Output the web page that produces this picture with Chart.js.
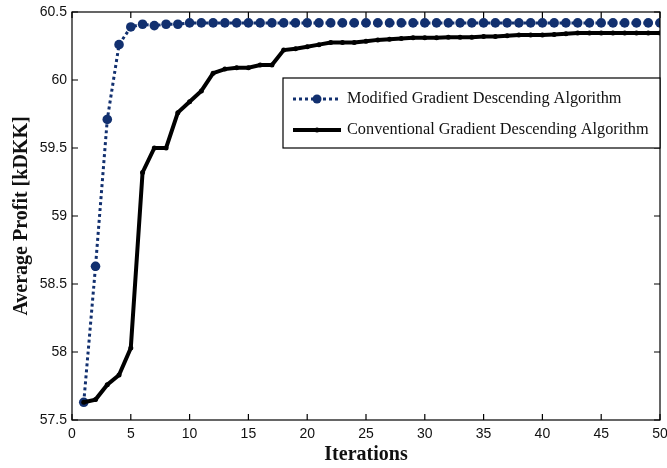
<!DOCTYPE html>
<html>
<head>
<meta charset="utf-8">
<script src="https://cdn.jsdelivr.net/npm/chart.js@4"></script>
<style>
  body { margin: 0; background: #fff; }
  #c { display: block; }
</style>
</head>
<body>
<canvas id="c" width="667" height="468"></canvas>
<script>
// iteration numbers
const iterations = [1,2,3,4,5,6,7,8,9,10,11,12,13,14,15,16,17,18,19,20,21,22,23,24,25,
  26,27,28,29,30,31,32,33,34,35,36,37,38,39,40,41,42,43,44,45,46,47,48,49,50]

const modified = [57.63,58.63,59.71,60.26,60.39,60.41,60.40,60.41,60.41,60.42,60.42,60.42,60.42,60.42,60.42,
  60.42,60.42,60.42,60.42,60.42,60.42,60.42,60.42,60.42,60.42,60.42,60.42,60.42,60.42,60.42,
  60.42,60.42,60.42,60.42,60.42,60.42,60.42,60.42,60.42,60.42,60.42,60.42,60.42,60.42,60.42,
  60.42,60.42,60.42,60.42,60.42]

const conventional = [57.63,57.65,57.76,57.83,58.03,59.32,59.50,59.50,59.76,59.84,59.92,60.05,60.08,60.09,60.09,
  60.11,60.11,60.22,60.23,60.245,60.26,60.275,60.275,60.275,60.285,60.295,60.30,60.305,60.31,60.31,
  60.31,60.315,60.315,60.315,60.32,60.32,60.325,60.33,60.33,60.33,60.335,60.34,60.345,60.345,60.345,
  60.345,60.345,60.345,60.345,60.345]

const xTicks = [0,5,10,15,20,25,30,35,40,45,50]
const yTicks = [57.5,58,58.5,59,59.5,60,60.5]
const seriesNames = ['Modified Gradient Descending Algorithm', 'Conventional Gradient Descending Algorithm']

const navy = '#12306f'

// box, inward ticks and the legend box (MATLAB look)
const frame = {
  id: 'frame',
  afterDatasetsDraw(chart) {
    const {ctx, chartArea: a, scales: {x, y}} = chart
    ctx.save()
    ctx.strokeStyle = '#000'
    ctx.lineWidth = 1.2
    ctx.strokeRect(a.left, a.top, a.right - a.left, a.bottom - a.top)
    ctx.beginPath()
    xTicks.forEach(v => {
      const px = x.getPixelForValue(v)
      ctx.moveTo(px, a.bottom); ctx.lineTo(px, a.bottom - 6)
      ctx.moveTo(px, a.top); ctx.lineTo(px, a.top + 6)
    })
    yTicks.forEach(v => {
      const py = y.getPixelForValue(v)
      ctx.moveTo(a.left, py); ctx.lineTo(a.left + 6, py)
      ctx.moveTo(a.right, py); ctx.lineTo(a.right - 6, py)
    })
    ctx.stroke()

    // legend
    const lx = 283, ly = 78, lw = a.right - 283, lh = 70
    ctx.fillStyle = '#fff'
    ctx.fillRect(lx, ly, lw, lh)
    ctx.lineWidth = 1.2
    ctx.strokeRect(lx, ly, lw, lh)

    const rows = [ly + 21, ly + 52]
    ctx.lineCap = 'butt'
    // modified
    ctx.strokeStyle = navy
    ctx.lineWidth = 3
    ctx.setLineDash([3, 3])
    ctx.beginPath(); ctx.moveTo(293, rows[0]); ctx.lineTo(341, rows[0]); ctx.stroke()
    ctx.setLineDash([])
    ctx.fillStyle = navy
    ctx.beginPath(); ctx.arc(317, rows[0], 4.5, 0, Math.PI * 2); ctx.fill()
    // conventional
    ctx.strokeStyle = '#000'
    ctx.lineWidth = 4
    ctx.beginPath(); ctx.moveTo(293, rows[1]); ctx.lineTo(341, rows[1]); ctx.stroke()
    ctx.fillStyle = '#000'
    ctx.beginPath(); ctx.arc(317, rows[1], 2.5, 0, Math.PI * 2); ctx.fill()

    ctx.fillStyle = '#111'
    ctx.font = '16.3px "Liberation Serif", "Times New Roman", serif'
    ctx.textBaseline = 'middle'
    ctx.fillText(seriesNames[0], 347, rows[0])
    ctx.fillText(seriesNames[1], 347, rows[1])
    ctx.restore()
  }
}

new Chart(document.getElementById('c'), {
  type: 'line',
  data: {
    datasets: [
      {
        label: seriesNames[0],
        data: iterations.map((it, i) => ({x: it, y: modified[i]})),
        borderColor: navy,
        backgroundColor: navy,
        borderWidth: 3,
        borderDash: [3, 3],
        pointRadius: 4.8,
        pointHoverRadius: 4.8,
        pointBorderWidth: 0,
        tension: 0,
        order: 2
      },
      {
        label: seriesNames[1],
        data: iterations.map((it, i) => ({x: it, y: conventional[i]})),
        borderColor: '#000',
        backgroundColor: '#000',
        borderWidth: 4,
        pointRadius: 2.5,
        pointHoverRadius: 2.5,
        pointBorderWidth: 0,
        tension: 0,
        order: 1
      }
    ]
  },
  options: {
    responsive: false,
    animation: false,
    layout: {padding: {top: 12, right: 7, left: 0, bottom: 0}},
    plugins: {legend: {display: false}, tooltip: {enabled: false}},
    scales: {
      x: {
        type: 'linear',
        min: 0, max: 50,
        afterBuildTicks: s => { s.ticks = xTicks.map(v => ({value: v})) },
        afterFit: s => { s.height = 48; s.paddingLeft = 0; s.paddingRight = 0 },
        grid: {display: true, drawOnChartArea: false, drawTicks: false, color: 'transparent'},
        border: {display: false},
        ticks: {color: '#111', padding: 6, maxRotation: 0,
          font: {family: '"Liberation Sans", Arial, sans-serif', size: 14}},
        title: {display: true, text: 'Iterations', color: '#111', padding: {top: 0, bottom: 1},
          font: {family: '"Liberation Serif", "Times New Roman", serif', size: 20, weight: 'bold'}}
      },
      y: {
        min: 57.5, max: 60.5,
        afterBuildTicks: s => { s.ticks = yTicks.map(v => ({value: v})) },
        afterFit: s => { s.width = 72; s.paddingTop = 0; s.paddingBottom = 0 },
        grid: {display: true, drawOnChartArea: false, drawTicks: false, color: 'transparent'},
        border: {display: false},
        ticks: {color: '#111', padding: 5, callback: v => String(v),
          font: {family: '"Liberation Sans", Arial, sans-serif', size: 14}},
        title: {display: true, text: 'Average Profit [kDKK]', color: '#111', padding: {top: 10, bottom: 0},
          font: {family: '"Liberation Serif", "Times New Roman", serif', size: 20, weight: 'bold'}}
      }
    }
  },
  plugins: [frame]
})
</script>
</body>
</html>
